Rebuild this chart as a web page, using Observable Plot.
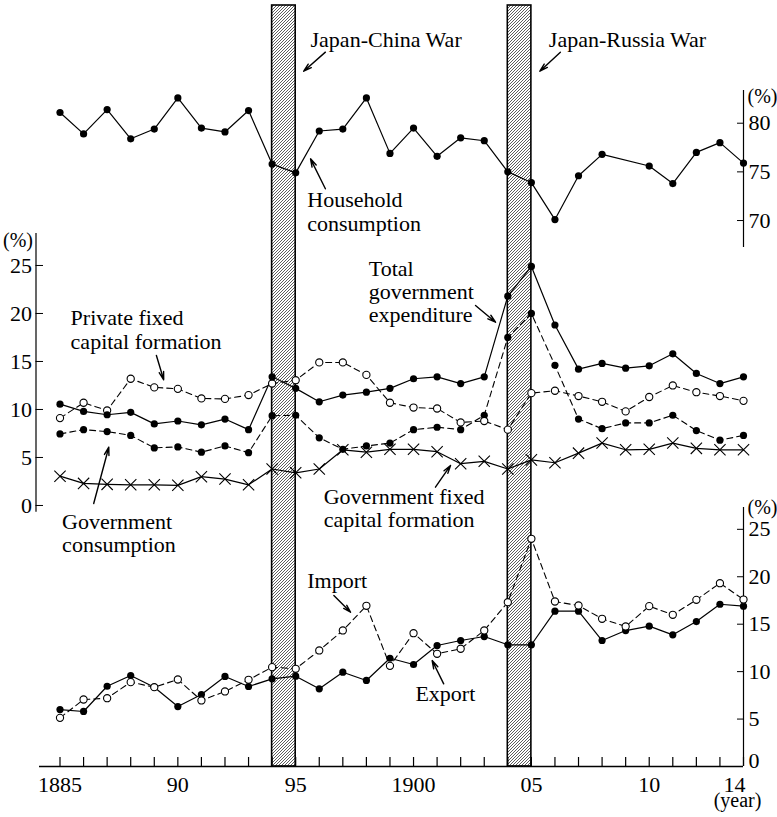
<!DOCTYPE html>
<html><head><meta charset="utf-8">
<script src="https://cdn.jsdelivr.net/npm/d3@7"></script>
<script src="https://cdn.jsdelivr.net/npm/@observablehq/plot@0.6"></script>
<style>
html,body{margin:0;padding:0;background:#fff;}
#chart{position:relative;width:777px;height:817px;font-family:"Liberation Serif",serif;}
#chart svg{position:absolute;left:0;top:0;background:none;}
#chart svg, #chart svg text, #chart svg tspan, #chart svg g{font-family:"Liberation Serif",serif !important;}
</style></head><body><div id="chart"></div>
<script>
// ---------- data ----------
const years = [1885,1886,1887,1888,1889,1890,1891,1892,1893,1894,1895,1896,1897,1898,1899,
               1900,1901,1902,1903,1904,1905,1906,1907,1908,1909,1910,1911,1912,1913,1914];
const household = [81.1,78.9,81.4,78.4,79.4,82.6,79.5,79.1,81.3,75.8,74.9,79.2,79.4,82.6,76.9,
                   79.5,76.6,78.5,78.2,75.0,73.9,70.1,74.6,76.8,null,75.6,73.8,77.0,78.0,75.9];
const totalGov = [10.55,9.8,9.45,9.7,8.5,8.8,8.4,9.0,7.9,13.4,12.2,10.8,11.5,11.8,12.2,
                  13.2,13.4,12.7,13.4,21.8,24.9,18.8,14.2,14.8,14.3,14.55,15.8,13.75,12.7,13.4];
const privateFixed = [9.1,10.7,9.9,13.2,12.3,12.15,11.15,11.1,11.5,12.7,13.05,14.9,14.9,13.6,10.7,
                      10.2,10.1,8.65,8.8,7.9,11.7,11.95,11.4,10.8,9.8,11.3,12.5,11.8,11.4,10.9];
const govConsumption = [7.45,7.9,7.7,7.3,6.0,6.1,5.55,6.2,5.5,9.35,9.4,7.05,5.85,6.2,6.5,
                        7.9,8.15,7.9,9.4,17.5,20.0,14.6,9.0,8.0,8.6,8.6,9.4,7.8,6.8,7.3];
const govFixed = [3.05,2.3,2.2,2.15,2.15,2.1,3.0,2.75,2.15,3.8,3.4,3.8,5.8,5.55,5.85,
                  5.85,5.6,4.35,4.6,3.8,4.75,4.45,5.45,6.5,5.8,5.85,6.5,5.95,5.8,5.8];
const exportShare = [6.0,5.8,8.46,9.59,8.36,6.32,7.59,9.49,8.43,9.24,9.52,8.19,9.94,9.07,11.41,
                     10.75,12.75,13.28,13.7,12.83,12.83,16.37,16.37,13.28,14.33,14.79,13.88,15.28,17.1,16.9];
const importShare = [5.13,7.06,7.2,8.89,8.36,9.17,6.96,7.91,9.14,10.47,10.3,12.23,14.34,16.94,10.61,
                     14.05,11.88,12.41,14.34,17.32,24.0,17.39,16.97,15.57,14.76,16.9,15.99,17.57,19.32,17.6];
const warNames = ["Japan-China War", "Japan-Russia War"];
const warStart = [1894, 1904];
const warEnd = [1895, 1905];
const topTicks = [70, 75, 80];
const midTicks = [0, 5, 10, 15, 20, 25];
const botTicks = [5, 10, 15, 20, 25];
const botZeroTick = [0];
const xTickYears = [1885, 1890, 1895, 1900, 1905, 1910];
const xTickLabels = ["1885", "90", "95", "1900", "05", "10"];
const xLastTick = [1914];
const xLastLabel = "14";

// ---------- layout ----------
const W = 777, H = 817;
const xDomain = [1885, 1914];
const xRange = [59.5, 743];
const PX = (xRange[1] - xRange[0]) / (xDomain[1] - xDomain[0]);
const FONT = "Liberation Serif";
const svgStyle = {fontFamily: FONT, fontSize: "22px", background: "none", overflow: "visible", color: "black"};
const rows = (arr) => years.map((year, i) => ({year, v: arr[i]})).filter(d => d.v != null);
const wars = warNames.map((name, i) => ({name, start: warStart[i], end: warEnd[i]}));

const solid = {x: "year", y: "v", stroke: "black", strokeWidth: 1.2};
const dashed = {x: "year", y: "v", stroke: "black", strokeWidth: 1.1, strokeDasharray: "6,4"};
const filled = {x: "year", y: "v", r: 3.6, fill: "black"};
const open = {x: "year", y: "v", r: 3.6, fill: "white", stroke: "black", strokeWidth: 1.1};
const cross = {x: "year", y: "v", r: 5.2, symbol: "times", stroke: "black", strokeWidth: 1.1};
const arrowStyle = {x1: "x1", y1: "y1", x2: "x2", y2: "y2", stroke: "black", strokeWidth: 1.4, headLength: 9, headAngle: 32};
const note = (text, x, y, lh = 1.06) => Plot.text([text], {x: [x], y: [y], text: d => d, textAnchor: "start", lineAnchor: "bottom", lineHeight: lh, fontSize: 22, fontFamily: FONT, fill: "black"});

// ---------- base: war bars and x axis ----------
const base = Plot.plot({
  width: W, height: H, marginTop: 5, marginBottom: 51, marginLeft: 39, marginRight: 34,
  style: svgStyle,
  x: {domain: xDomain, range: xRange},
  y: {domain: [0, 1], axis: null},
  marks: [
    Plot.rect(wars, {x1: "start", x2: "end", fill: "url(#hatch)", stroke: "black", strokeWidth: 1.6}),
    Plot.ruleY([0], {stroke: "black", strokeWidth: 1.3}),
    Plot.axisX({ticks: years, tickSize: -9, tickFormat: () => "", label: null, strokeWidth: 1.2}),
    Plot.axisX({ticks: xTickYears, tickSize: 0, tickPadding: 10, label: null, fontSize: 22, fontFamily: FONT,
                tickFormat: d => xTickLabels[xTickYears.indexOf(d)]}),
    Plot.axisX({ticks: xLastTick, tickSize: 0, tickPadding: 10, dx: -9, label: null, fontSize: 22, fontFamily: FONT,
                tickFormat: () => xLastLabel}),
    Plot.text(["(year)"], {x: [1914], text: d => d, frameAnchor: "bottom", dy: 40, dx: -6, fontSize: 20, fontFamily: FONT, fill: "black"})
  ]
});
d3.select(base).insert("defs", ":first-child").html(
  `<pattern id="hatch" patternUnits="userSpaceOnUse" width="3" height="3">
     <path d="M-0.75,0.75 L0.75,-0.75 M0,3 L3,0 M2.25,3.75 L3.75,2.25" stroke="#333" stroke-width="0.8"/>
   </pattern>`);

// ---------- top panel: household consumption ----------
const topPlot = Plot.plot({
  width: W, height: H, marginTop: 90, marginBottom: H - 247, marginLeft: 59.5, marginRight: 34,
  style: svgStyle,
  x: {domain: xDomain, range: xRange, axis: null},
  y: {domain: [67.23, 83.36], axis: null},
  marks: [
    Plot.ruleX([1914], {stroke: "black", strokeWidth: 1.2}),
    Plot.axisY({anchor: "right", ticks: topTicks, tickSize: -7, tickPadding: 12, label: null, fontSize: 22, fontFamily: FONT}),
    Plot.line(rows(household), solid),
    Plot.dot(rows(household), filled),
    note(warNames[0], 1895.63, 87.81),
    note(warNames[1], 1905.74, 87.81),
    Plot.arrow([{x1: 1896.26, y1: 87.30, x2: 1895.34, y2: 85.34},
                {x1: 1906.23, y1: 87.30, x2: 1905.36, y2: 85.34},
                {x1: 1896.26, y1: 73.26, x2: 1895.63, y2: 76.34}], arrowStyle),
    note("Household\nconsumption", 1895.49, 68.97, 1.06),
    Plot.text(["(%)"], {x: [1914], y: [83.36], text: d => d, dx: 4, dy: 6, textAnchor: "start", fontSize: 20, fontFamily: FONT, fill: "black"})
  ]
});

// ---------- middle panel ----------
const midLeft = 35.5;
const midAxisYear = xDomain[0] - (xRange[0] - midLeft) / PX;
const midPlot = Plot.plot({
  width: W, height: H, marginTop: 233, marginBottom: H - 511.7, marginLeft: midLeft, marginRight: 34,
  style: svgStyle,
  x: {domain: xDomain, range: xRange, axis: null},
  y: {domain: [-0.70, 28.33], axis: null},
  marks: [
    Plot.ruleX([midAxisYear], {stroke: "black", strokeWidth: 1.2}),
    Plot.axisY({anchor: "left", ticks: midTicks, tickSize: -7.5, tickPadding: 11.5, label: null, fontSize: 22, fontFamily: FONT}),
    Plot.line(rows(govFixed), solid),
    Plot.line(rows(govConsumption), dashed),
    Plot.line(rows(privateFixed), dashed),
    Plot.line(rows(totalGov), solid),
    Plot.dot(rows(govFixed), cross),
    Plot.dot(rows(govConsumption), filled),
    Plot.dot(rows(privateFixed), open),
    Plot.dot(rows(totalGov), filled),
    note("Total\ngovernment\nexpenditure", 1898.10, 19.09, 1.06),
    note("Private fixed\ncapital formation", 1885.45, 16.32, 1.06),
    note("Government fixed\ncapital formation", 1896.19, -2.26, 1.06),
    note("Government\nconsumption", 1885.09, -4.86, 1.06),
    Plot.arrow([{x1: 1902.63, y1: 20.83, x2: 1903.48, y2: 19.09},
                {x1: 1889.09, y1: 15.63, x2: 1889.40, y2: 13.09},
                {x1: 1900.93, y1: 1.91, x2: 1901.57, y2: 4.17},
                {x1: 1886.43, y1: 0.21, x2: 1887.07, y2: 6.07}], arrowStyle),
    Plot.text(["(%)"], {x: [midAxisYear], y: [27.6], text: d => d, dx: -3, textAnchor: "end", fontSize: 20, fontFamily: FONT, fill: "black"})
  ]
});

// ---------- bottom panel: export / import ----------
const botPlot = Plot.plot({
  width: W, height: H, marginTop: 507, marginBottom: 51, marginLeft: 59.5, marginRight: 34,
  style: svgStyle,
  x: {domain: xDomain, range: xRange, axis: null},
  y: {domain: [0, 27.3], axis: null},
  marks: [
    Plot.ruleX([1914], {stroke: "black", strokeWidth: 1.2}),
    Plot.axisY({anchor: "right", ticks: botTicks, tickSize: -7, tickPadding: 12, label: null, fontSize: 22, fontFamily: FONT}),
    Plot.axisY({anchor: "right", ticks: botZeroTick, tickSize: 0, tickPadding: 5, dy: -6, label: null, fontSize: 22, fontFamily: FONT}),
    Plot.line(rows(importShare), dashed),
    Plot.line(rows(exportShare), solid),
    Plot.dot(rows(exportShare), filled),
    Plot.dot(rows(importShare), open),
    note("Import", 1895.49, 18.83),
    note("Export", 1900.08, 6.95),
    Plot.arrow([{x1: 1896.62, y1: 18.02, x2: 1897.33, y2: 16.26},
                {x1: 1901.28, y1: 8.71, x2: 1900.79, y2: 11.17}], arrowStyle),
    Plot.text(["(%)"], {x: [1914], y: [27.3], text: d => d, dx: 4, textAnchor: "start", fontSize: 20, fontFamily: FONT, fill: "black"})
  ]
});

const chart = document.getElementById("chart");
[base, topPlot, midPlot, botPlot].forEach(s => chart.appendChild(s));
</script>
</body></html>
